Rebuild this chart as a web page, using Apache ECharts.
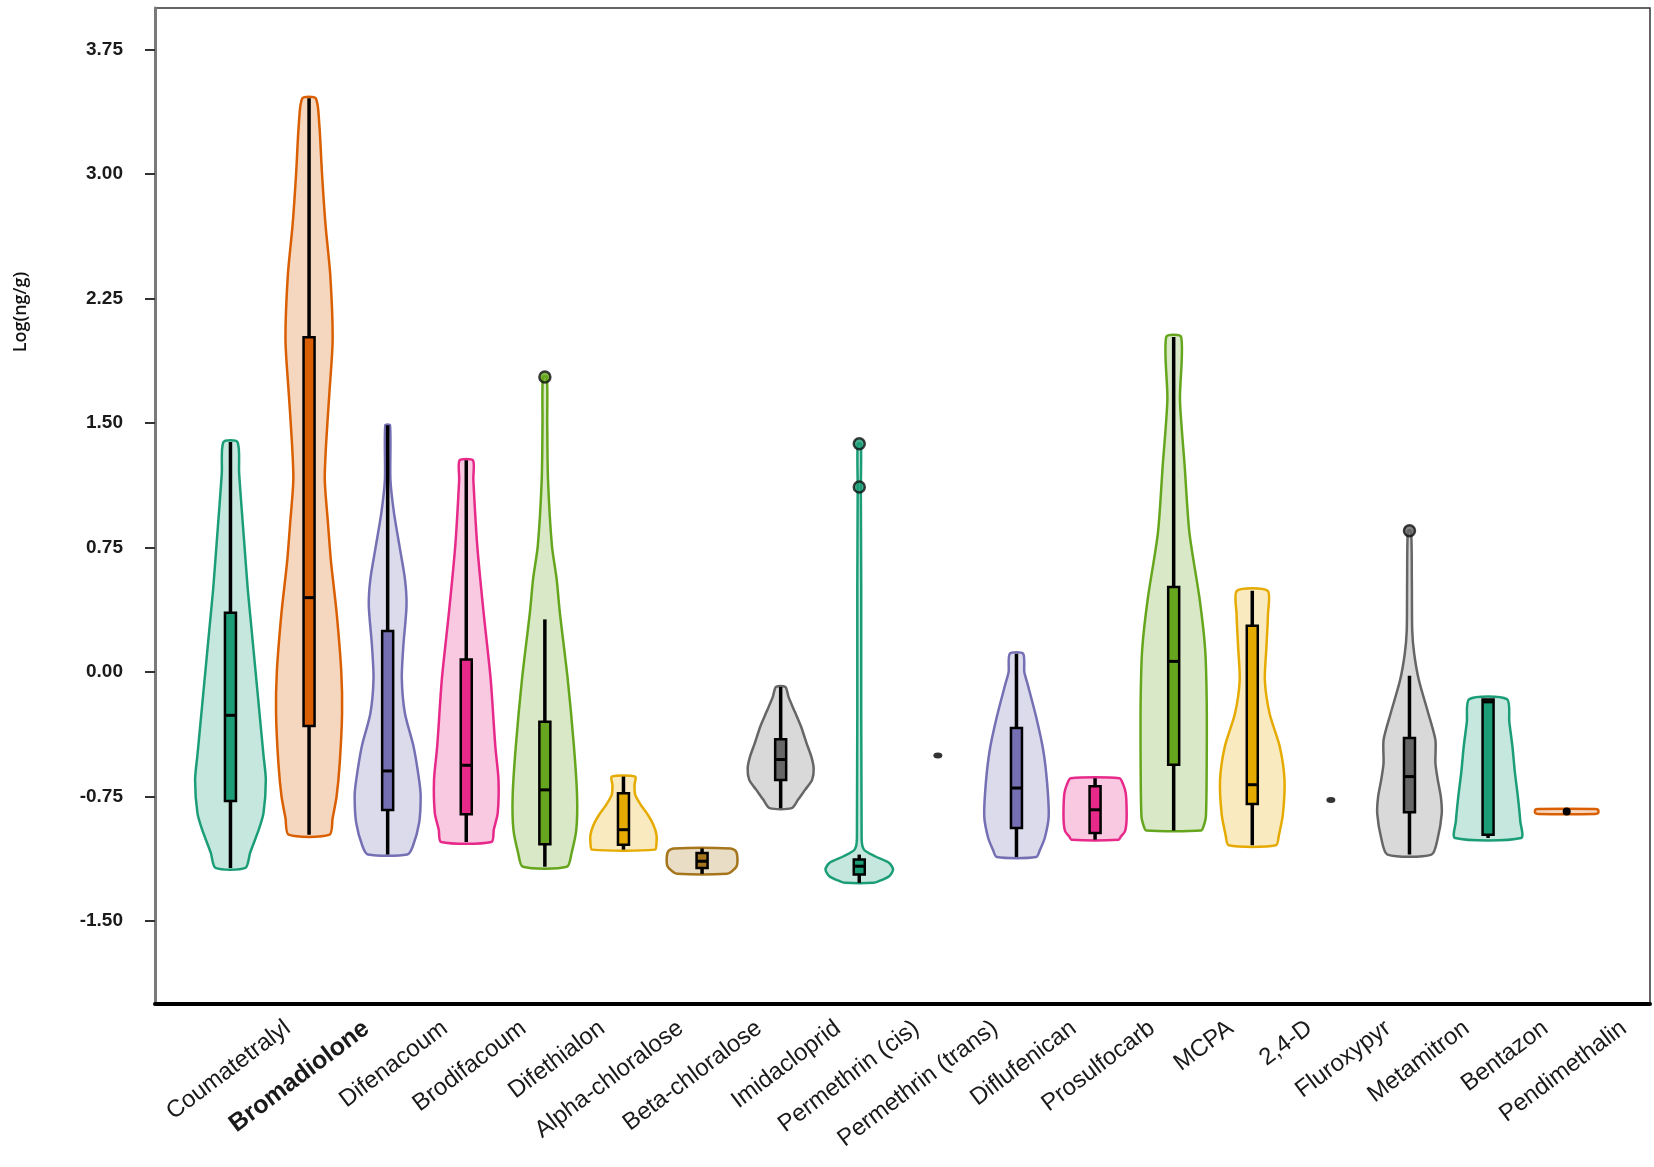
<!DOCTYPE html>
<html>
<head>
<meta charset="utf-8">
<script src="https://cdn.jsdelivr.net/npm/echarts@6/dist/echarts.min.js"></script>
<style>
    html, body {margin: 0; padding: 0; background: #fff;}
    #main {width: 1654px; height: 1167px;}
</style>
</head>
<body>
<div id="main"></div>
<script>
const categories = ['Coumatetralyl', 'Bromadiolone', 'Difenacoum', 'Brodifacoum', 'Difethialon',
    'Alpha-chloralose', 'Beta-chloralose', 'Imidacloprid', 'Permethrin (cis)', 'Permethrin (trans)',
    'Diflufenican', 'Prosulfocarb', 'MCPA', '2,4-D', 'Fluroxypyr', 'Metamitron', 'Bentazon', 'Pendimethalin'];
const yTicks = [-1.5, -0.75, 0, 0.75, 1.5, 2.25, 3, 3.75];
const palette = ['#1b9e77', '#d95f02', '#7570b3', '#e7298a', '#66a61e', '#e6ab02', '#a6761d', '#666666'];

// violin outlines: [log(ng/g), half width in category units], top to bottom
const vCoumatetralyl = [[1.385,0.09],[1.2,0.11],[1.0,0.14],[0.75,0.18],[0.5,0.22],[0.25,0.27],[0.0,0.32],[-0.25,0.37],[-0.5,0.42],[-0.65,0.45],[-0.85,0.42],[-0.95,0.36],[-1.09,0.25],[-1.18,0.19]];
const vBromadiolone = [[3.456,0.085],[3.3,0.13],[3.0,0.165],[2.69,0.21],[2.39,0.27],[2.0,0.3],[1.69,0.26],[1.4,0.22],[1.16,0.2],[0.9,0.24],[0.66,0.28],[0.36,0.35],[0.0,0.41],[-0.25,0.42],[-0.55,0.39],[-0.75,0.35],[-0.88,0.3],[-0.98,0.26]];
const vDifenacoum = [[1.486,0.03],[1.16,0.035],[0.96,0.08],[0.76,0.15],[0.56,0.22],[0.4,0.24],[0.16,0.2],[-0.04,0.18],[-0.25,0.22],[-0.45,0.33],[-0.65,0.4],[-0.75,0.42],[-0.91,0.4],[-1.05,0.32],[-1.1,0.25]];
const vBrodifacoum = [[1.275,0.085],[1.16,0.09],[0.76,0.14],[0.36,0.22],[-0.04,0.31],[-0.45,0.37],[-0.65,0.41],[-0.85,0.4],[-0.95,0.35],[-1.024,0.32]];
const vDifethialon = [[1.777,0.025],[1.5,0.03],[1.16,0.04],[0.76,0.09],[0.56,0.15],[0.36,0.19],[-0.04,0.29],[-0.45,0.37],[-0.75,0.41],[-0.95,0.4],[-1.09,0.34],[-1.173,0.28]];
const vAlpha = [[-0.63,0.15],[-0.68,0.14],[-0.74,0.15],[-0.8,0.22],[-0.86,0.31],[-0.92,0.38],[-0.98,0.42],[-1.03,0.42],[-1.07,0.4]];
const vBeta = [[-1.063,0.36],[-1.08,0.43],[-1.12,0.45],[-1.17,0.44],[-1.2,0.38],[-1.216,0.32]];
const vImidacloprid = [[-0.09,0.06],[-0.15,0.1],[-0.24,0.18],[-0.33,0.26],[-0.43,0.33],[-0.51,0.39],[-0.58,0.42],[-0.65,0.4],[-0.71,0.31],[-0.77,0.22],[-0.82,0.14]];
const vPermethrinCis = [[1.375,0.02],[1.114,0.02],[0.5,0.025],[-1.0,0.03],[-1.07,0.06],[-1.11,0.2],[-1.15,0.38],[-1.19,0.43],[-1.23,0.38],[-1.26,0.25],[-1.27,0.18]];
const vDiflufenican = [[0.11,0.085],[0.0,0.1],[-0.07,0.14],[-0.27,0.25],[-0.47,0.34],[-0.67,0.39],[-0.87,0.41],[-1.0,0.36],[-1.07,0.3],[-1.115,0.25]];
const vProsulfocarb = [[-0.64,0.31],[-0.68,0.36],[-0.73,0.39],[-0.8,0.4],[-0.9,0.4],[-0.96,0.38],[-0.99,0.33],[-1.01,0.3]];
const vMCPA = [[2.018,0.095],[1.64,0.08],[1.24,0.14],[0.84,0.2],[0.44,0.33],[0.14,0.4],[-0.17,0.42],[-0.57,0.42],[-0.87,0.41],[-0.93,0.38],[-0.955,0.35]];
const v24D = [[0.49,0.195],[0.35,0.2],[0.15,0.18],[-0.05,0.16],[-0.25,0.22],[-0.45,0.35],[-0.65,0.41],[-0.855,0.39],[-0.98,0.34],[-1.044,0.3]];
const vMetamitron = [[0.851,0.02],[0.55,0.03],[0.25,0.035],[0.11,0.06],[-0.05,0.12],[-0.25,0.24],[-0.41,0.33],[-0.55,0.33],[-0.65,0.36],[-0.755,0.4],[-0.855,0.41],[-1.0,0.36],[-1.1,0.28]];
const vBentazon = [[-0.163,0.24],[-0.3,0.27],[-0.45,0.31],[-0.6,0.34],[-0.755,0.38],[-0.9,0.41],[-1.0,0.42]];
const vPendimethalin = [[-0.825,0.36],[-0.83,0.4],[-0.85,0.4],[-0.855,0.36]];

const profiles = [vCoumatetralyl, vBromadiolone, vDifenacoum, vBrodifacoum, vDifethialon, vAlpha, vBeta,
    vImidacloprid, vPermethrinCis, null, vDiflufenican, vProsulfocarb, vMCPA, v24D, null, vMetamitron, vBentazon, vPendimethalin];

// box plot stats (null = no box)
const whiskerLow  = [-1.18, -0.98, -1.10, -1.024, -1.173, -1.07, -1.216, -0.82, -1.27, null, -1.115, -1.01, -0.955, -1.044, null, -1.10, -1.0, null];
const boxQ1       = [-0.777, -0.325, -0.831, -0.857, -1.038, -1.04, -1.18, -0.65, -1.22, null, -0.94, -0.97, -0.558, -0.795, null, -0.845, -0.98, null];
const boxMedian   = [-0.261, 0.448, -0.596, -0.562, -0.71, -0.95, -1.14, -0.527, -1.17, null, -0.699, -0.83, 0.064, -0.679, null, -0.63, -0.18, -0.84];
const boxQ3       = [0.357, 2.016, 0.247, 0.076, -0.30, -0.73, -1.09, -0.405, -1.13, null, -0.337, -0.689, 0.512, 0.279, null, -0.398, -0.165, null];
const whiskerHigh = [1.385, 3.456, 1.486, 1.275, 0.317, -0.63, -1.063, -0.09, -1.10, null, 0.11, -0.64, 2.018, 0.49, null, -0.022, -0.163, null];

const outliers = [[4, 1.777], [8, 1.375], [8, 1.114], [15, 0.851]];
const singleValues = [[9, -0.503], [14, -0.771]];

function withAlpha(hex, a) {
    var n = parseInt(hex.slice(1), 16);
    return 'rgba(' + (n >> 16) + ',' + ((n >> 8) & 255) + ',' + (n & 255) + ',' + a + ')';
}

var myChart = echarts.init(document.getElementById('main'));
var catData = categories.map(function (c, i) { return [i + 1, 0]; });

myChart.setOption({
    animation: false,
    grid: {left: 155, right: 4, top: 8, bottom: 163, show: true, borderColor: '#333', borderWidth: 1.5},
    graphic: [{
        type: 'text', x: 21, y: 312, rotation: Math.PI / 2,
        style: {text: 'Log(ng/g)', font: '600 18px "Open Sans"', fill: '#111', align: 'center', verticalAlign: 'middle'}
    }],
    xAxis: {
        type: 'value', min: 0.04, max: 19.06,
        axisLine: {show: true, onZero: false, lineStyle: {color: '#000', width: 4}},
        axisTick: {show: false}, axisLabel: {show: false}, splitLine: {show: false}
    },
    yAxis: {
        type: 'value', min: -2, max: 4,
        axisLine: {show: true, lineStyle: {color: '#7a7a7a', width: 3}},
        axisTick: {show: true, length: 10, customValues: yTicks, lineStyle: {color: '#333', width: 2}},
        axisLabel: {
            customValues: yTicks, margin: 32,
            formatter: function (v) { return v.toFixed(2); },
            fontFamily: 'Liberation Sans', fontSize: 19, fontWeight: 'bold', color: '#1a1a1a'
        },
        splitLine: {show: false}
    },
    series: [{
        type: 'custom', name: 'violin', data: catData,
        renderItem: function (params, api) {
            var i = params.dataIndex;
            var prof = profiles[i];
            if (!prof) return null;
            var x = i + 1;
            var right = prof.map(function (p) { return api.coord([x + p[1], p[0]]); });
            var left = prof.slice().reverse().map(function (p) { return api.coord([x - p[1], p[0]]); });
            var color = palette[i % 8];
            return {
                type: 'polygon',
                shape: {points: right.concat(left), smooth: 0.25},
                style: {fill: withAlpha(color, 0.25), stroke: color, lineWidth: 2.5}
            };
        }
    }, {
        type: 'custom', name: 'box', data: catData,
        renderItem: function (params, api) {
            var i = params.dataIndex;
            var x = i + 1;
            var color = palette[i % 8];
            var kids = [];
            if (whiskerLow[i] !== null) {
                var lo = api.coord([x, whiskerLow[i]]), hi = api.coord([x, whiskerHigh[i]]);
                kids.push({type: 'line', shape: {x1: lo[0], y1: lo[1], x2: hi[0], y2: hi[1]},
                    style: {stroke: '#000', lineWidth: 3.5}});
                var a = api.coord([x - 0.07, boxQ3[i]]), b = api.coord([x + 0.07, boxQ1[i]]);
                kids.push({type: 'rect', shape: {x: a[0], y: a[1], width: b[0] - a[0], height: b[1] - a[1]},
                    style: {fill: color, stroke: '#000', lineWidth: 2.5}});
                var m1 = api.coord([x - 0.07, boxMedian[i]]), m2 = api.coord([x + 0.07, boxMedian[i]]);
                kids.push({type: 'line', shape: {x1: m1[0], y1: m1[1], x2: m2[0], y2: m2[1]},
                    style: {stroke: '#000', lineWidth: 3}});
            } else if (boxMedian[i] !== null) {
                var c = api.coord([x, boxMedian[i]]);
                kids.push({type: 'circle', shape: {cx: c[0], cy: c[1], r: 4}, style: {fill: '#000'}});
            }
            return {type: 'group', children: kids};
        }
    }, {
        type: 'scatter', name: 'outliers',
        data: outliers.map(function (o) { return [o[0] + 1, o[1]]; }),
        symbolSize: 11,
        itemStyle: {
            color: function (p) { return palette[outliers[p.dataIndex][0] % 8]; },
            borderColor: '#111', borderWidth: 2.5
        }
    }, {
        type: 'scatter', name: 'single',
        data: singleValues.map(function (o) { return [o[0] + 1, o[1]]; }),
        symbol: 'circle', symbolSize: [9, 6],
        itemStyle: {color: '#000'}
    }, {
        type: 'custom', name: 'labels', data: catData, clip: false,
        renderItem: function (params, api) {
            var i = params.dataIndex;
            var p = api.coord([i + 1, -2]);
            var bold = categories[i] === 'Bromadiolone';
            return {
                type: 'text', x: p[0] + 50, y: p[1] + 12, rotation: 37 * Math.PI / 180,
                style: {
                    text: categories[i], align: 'right', verticalAlign: 'top', fill: '#1a1a1a',
                    font: (bold ? 'bold 25px ' : '24px ') + '"Liberation Sans"'
                }
            };
        }
    }]
});
</script>
</body>
</html>
